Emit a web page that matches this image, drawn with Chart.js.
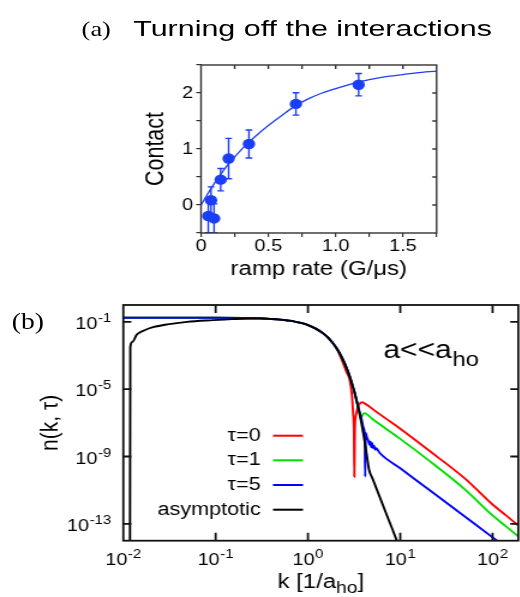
<!DOCTYPE html>
<html><head><meta charset="utf-8">
<script src="https://cdn.jsdelivr.net/npm/chart.js@4.4.1/dist/chart.umd.min.js"></script>
<style>
html,body{margin:0;padding:0;background:#fff;width:520px;height:597px;overflow:hidden}
#wrap{position:absolute;left:0;top:0;width:434px;height:597px;transform:scaleX(1.2);transform-origin:0 0}
canvas{position:absolute}
.t{position:absolute;white-space:nowrap;line-height:1;color:#000}
</style></head>
<body><div id="wrap">
<div class="t" style="left:68px;top:18px;font-family:'Liberation Serif',serif;font-size:22px">(a)</div>
<div class="t" style="left:110.6px;top:18.5px;font-family:'Liberation Sans',Arial,sans-serif;font-size:21.5px;transform:scaleX(1.18);transform-origin:0 0">Turning off the interactions</div>
<div class="t" style="left:9.75px;top:310px;font-family:'Liberation Serif',serif;font-size:23px">(b)</div>
<canvas id="ca" width="300" height="250" style="left:90px;top:40px"></canvas>
<canvas id="cb" width="434" height="307" style="left:0;top:290px"></canvas>
</div>
<script>
// ---------- Panel (a) data ----------
const rampRate   = [0.054, 0.097, 0.074, 0.146, 0.205, 0.356, 0.705, 1.171];
const contact    = [-0.196, -0.24, 0.084, 0.453, 0.83, 1.09, 1.805, 2.148];
const contactErr = [0.30, 0.26, 0.24, 0.20, 0.36, 0.25, 0.20, 0.20];
const fitRate    = [0, 0.05, 0.1, 0.15, 0.2, 0.25, 0.3, 0.35, 0.4, 0.5, 0.6, 0.7, 0.8, 0.9, 1.0, 1.1, 1.2, 1.3, 1.4, 1.5, 1.6, 1.75];
const fitContact = [0, 0.2, 0.39, 0.56, 0.72, 0.86, 0.99, 1.11, 1.22, 1.42, 1.6, 1.77, 1.9, 2.0, 2.08, 2.15, 2.21, 2.26, 2.3, 2.33, 2.36, 2.39];

// ---------- Panel (b) data (k in 1/a_ho, log10 of n) ----------
const kTau0 = [0.01,0.1,0.2,0.3,0.4,0.5,0.6,0.7,0.8,0.9,1.0,1.2,1.4,1.6,1.8,2.0,2.2,2.4,2.6,2.83,3.0,3.08,3.15,3.18,3.22,3.3,3.45,3.65,3.85,4.1,4.5,5,7,10,20,50,100,140,190];
const logNTau0 = [-0.76,-0.76,-0.77,-0.79,-0.83,-0.87,-0.92,-0.97,-1.04,-1.11,-1.19,-1.39,-1.61,-1.87,-2.17,-2.5,-2.95,-3.45,-3.95,-4.45,-5.4,-6.4,-7.6,-10.2,-7.4,-6.6,-6.1,-5.85,-5.78,-5.84,-5.98,-6.17,-6.75,-7.35,-8.6,-10.3,-11.85,-12.5,-13.1];
const kTau1 = [0.01,0.1,0.2,0.3,0.4,0.5,0.6,0.7,0.8,0.9,1.0,1.2,1.4,1.6,1.8,2.0,2.2,2.4,2.6,2.8,3.0,3.2,3.4,3.6,3.72,3.85,4.0,4.1,4.3,4.6,5,7,10,20,50,100,140,190];
const logNTau1 = [-0.76,-0.76,-0.77,-0.79,-0.83,-0.87,-0.92,-0.97,-1.04,-1.11,-1.19,-1.39,-1.61,-1.87,-2.17,-2.5,-2.86,-3.26,-3.69,-4.16,-4.67,-5.2,-5.78,-6.38,-6.75,-6.6,-6.45,-6.42,-6.47,-6.6,-6.77,-7.35,-7.95,-9.2,-10.95,-12.5,-13.15,-13.75];
const kTau5 = [0.01,0.1,0.2,0.3,0.4,0.5,0.6,0.7,0.8,0.9,1.0,1.2,1.4,1.6,1.8,2.0,2.2,2.4,2.6,2.8,3.0,3.2,3.4,3.6,3.8,4.0,4.12,4.17,4.22,4.35,4.5,4.65,4.75,4.85,4.95,5.05,5.2,5.35,5.5,5.75,6,10,20,50,100,120];
const logNTau5 = [-0.76,-0.76,-0.77,-0.79,-0.83,-0.87,-0.92,-0.97,-1.04,-1.11,-1.19,-1.39,-1.61,-1.87,-2.17,-2.5,-2.86,-3.26,-3.69,-4.16,-4.67,-5.2,-5.78,-6.3,-6.75,-7.3,-7.7,-10.2,-7.6,-7.85,-8.05,-8.3,-8.1,-8.45,-8.2,-8.5,-8.35,-8.6,-8.5,-8.65,-8.79,-9.7,-10.93,-12.56,-13.8,-14.12];
const kAsym = [0.0118,0.0119,0.0125,0.014,0.017,0.021,0.03,0.049,0.094,0.15,0.25,0.3,0.4,0.5,0.6,0.7,0.8,0.9,1.0,1.2,1.4,1.6,1.8,2.0,2.2,2.4,2.6,2.8,3.0,3.2,3.4,3.6,3.8,4.0,4.2,4.4,4.6,5,6,7,8,9.06,10];
const logNAsym = [-15,-2.5,-2.2,-1.75,-1.5,-1.32,-1.15,-1.0,-0.9,-0.84,-0.8,-0.8,-0.83,-0.87,-0.92,-0.97,-1.04,-1.11,-1.19,-1.39,-1.61,-1.87,-2.17,-2.5,-2.86,-3.26,-3.69,-4.16,-4.67,-5.2,-5.78,-6.38,-7.03,-7.7,-8.4,-9.15,-9.8,-10.3,-11.41,-12.35,-13.16,-13.92,-14.52];
const seriesLabels = ['τ=0', 'τ=1', 'τ=5', 'asymptotic'];
const xDecades = [0.01, 0.1, 1, 10, 100];
const yDecades = [1e-1, 1e-5, 1e-9, 1e-13];

const FONT = "'Liberation Sans', Arial, sans-serif";
const BLUE_A = 'rgb(28,62,245)';
Chart.defaults.font.family = FONT;
Chart.defaults.color = '#000';

function exponentOf(v){ return String(Math.round(Math.log10(v))); }

function makeFrame(cfg){
  return { id:'frame', afterDatasetsDraw(chart){
    const {ctx, chartArea:a, scales:{x, y}} = chart;
    ctx.save();
    ctx.strokeStyle = cfg.color; ctx.lineWidth = cfg.width;
    ctx.strokeRect(a.left, a.top, a.right - a.left, a.bottom - a.top);
    ctx.beginPath();
    x.ticks.forEach(t => {
      const px = x.getPixelForValue(t.value);
      if (px < a.left + 0.5 || px > a.right - 0.5) return;
      if (cfg.top) { ctx.moveTo(px, a.top); ctx.lineTo(px, a.top + cfg.top); }
      if (cfg.bottom) { ctx.moveTo(px, a.bottom); ctx.lineTo(px, a.bottom - cfg.bottom); }
    });
    y.ticks.forEach(t => {
      const py = y.getPixelForValue(t.value);
      if (py < a.top + 0.5 || py > a.bottom - 0.5) return;
      if (cfg.right) { ctx.moveTo(a.right, py); ctx.lineTo(a.right - cfg.right, py); }
      if (cfg.left) { ctx.moveTo(a.left, py); ctx.lineTo(a.left + cfg.left, py); }
    });
    ctx.stroke();
    ctx.restore();
  }};
}

const errorBars = { id:'errorBars', afterDatasetsDraw(chart){
  const {ctx, chartArea:a, scales:{x, y}} = chart;
  ctx.save();
  ctx.beginPath(); ctx.rect(a.left, a.top, a.right - a.left, a.bottom - a.top); ctx.clip();
  ctx.strokeStyle = BLUE_A; ctx.lineWidth = 1.4;
  rampRate.forEach((r, i) => {
    const px = x.getPixelForValue(r);
    const top = y.getPixelForValue(contact[i] + contactErr[i]);
    const bot = y.getPixelForValue(contact[i] - contactErr[i]);
    ctx.beginPath();
    ctx.moveTo(px, top); ctx.lineTo(px, bot);
    ctx.moveTo(px - 2.8, top); ctx.lineTo(px + 2.8, top);
    ctx.moveTo(px - 2.8, bot); ctx.lineTo(px + 2.8, bot);
    ctx.stroke();
  });
  ctx.restore();
}};

new Chart(document.getElementById('ca'), {
  type: 'scatter',
  data: { datasets: [
    { label: 'data', data: rampRate.map((r, i) => ({x: r, y: contact[i]})), backgroundColor: BLUE_A, borderColor: BLUE_A,
      pointRadius: 5.2, pointBorderWidth: 0, showLine: false, order: 0 },
    { label: 'fit', data: fitRate.map((r, i) => ({x: r, y: fitContact[i]})), showLine: true, borderColor: BLUE_A,
      borderWidth: 1.3, pointRadius: 0, cubicInterpolationMode: 'monotone', order: 1 }
  ]},
  options: {
    responsive: false, animation: false, devicePixelRatio: 1, events: [],
    layout: { padding: { top: 25, right: 26.2, left: 0, bottom: 0 } },
    plugins: { legend: { display: false }, tooltip: { enabled: false } },
    scales: {
      x: { type: 'linear', min: 0, max: 1.75, afterFit(s){ s.height = 57; },
        ticks: { stepSize: 0.25, autoSkip: false, maxRotation: 0, padding: 0, font: { size: 16.5 },
          callback(v){ return (Math.abs(v * 2 - Math.round(v * 2)) < 1e-9) ? (v === 0 ? '0' : v.toFixed(1)) : ''; } },
        grid: { display: true, drawOnChartArea: false, drawTicks: true, tickLength: 4, color: '#333', lineWidth: 1.2 },
        border: { display: false },
        title: { display: true, text: 'ramp rate (G/μs)', font: { size: 20 }, padding: { top: 0, bottom: 9 } } },
      y: { type: 'linear', min: -0.5, max: 2.5, afterFit(s){ s.width = 77.5; },
        ticks: { stepSize: 0.5, autoSkip: false, padding: 2.5, font: { size: 16.5 },
          callback(v){ return Number.isInteger(v) ? String(v) : ''; } },
        grid: { display: true, drawOnChartArea: false, drawTicks: true, tickLength: 4, color: '#333', lineWidth: 1.2 },
        border: { display: false },
        title: { display: true, text: 'Contact', font: { size: 21.5 }, padding: { top: 27, bottom: 0 } } }
    }
  },
  plugins: [errorBars, makeFrame({ color: '#333', width: 1.4, top: 4, right: 3.6 })]
});

// power-of-ten label with a real superscript: "10" + raised exponent
function drawPow10(ctx, v, xPos, baseline, align){
  const exp = exponentOf(v);
  ctx.font = '16.5px ' + FONT; const wMain = ctx.measureText('10').width;
  ctx.font = '12.5px ' + FONT; const wExp = ctx.measureText(exp).width;
  const total = wMain + wExp + 0.5;
  const start = align === 'right' ? xPos - total : xPos - total / 2;
  ctx.textAlign = 'left'; ctx.textBaseline = 'alphabetic';
  ctx.font = '16.5px ' + FONT; ctx.fillText('10', start, baseline);
  ctx.font = '12.5px ' + FONT; ctx.fillText(exp, start + wMain + 0.5, baseline - 7);
}

const panelBText = { id:'panelBText', afterDraw(chart){
  const {ctx, chartArea:a, scales:{x, y}} = chart;
  ctx.save();
  ctx.fillStyle = '#000';
  // tick labels
  xDecades.forEach(v => drawPow10(ctx, v, x.getPixelForValue(v), a.bottom + 24.2, 'center'));
  yDecades.forEach(v => drawPow10(ctx, v, a.left - 10, y.getPixelForValue(v) + 7.3, 'right'));
  // annotation a<<a_ho
  ctx.textBaseline = 'alphabetic'; ctx.textAlign = 'left';
  ctx.font = '25px ' + FONT;
  const ax = 319.4, ay = 68.3;
  ctx.fillText('a<<a', ax, ay);
  const w1 = ctx.measureText('a<<a').width;
  ctx.font = '20px ' + FONT;
  ctx.fillText('ho', ax + w1 + 0.5, ay + 7.5);
  // legend
  const rows = [145.7, 170.3, 195, 219.7];
  chart.data.datasets.forEach((ds, i) => {
    ctx.font = '18px ' + FONT; ctx.textAlign = 'right'; ctx.textBaseline = 'middle';
    ctx.fillStyle = '#000';
    ctx.fillText(ds.label, 217.25, rows[i]);
    ctx.strokeStyle = ds.borderColor; ctx.lineWidth = 2;
    ctx.beginPath(); ctx.moveTo(227.5, rows[i]); ctx.lineTo(252.5, rows[i]); ctx.stroke();
  });
  // x axis title k [1/a_ho]
  ctx.textAlign = 'left'; ctx.textBaseline = 'alphabetic'; ctx.fillStyle = '#000';
  const p1 = 'k [1/a', p2 = 'ho', p3 = ']';
  ctx.font = '20px ' + FONT; const wA = ctx.measureText(p1).width, wC = ctx.measureText(p3).width;
  ctx.font = '16px ' + FONT; const wB = ctx.measureText(p2).width;
  const tx = (a.left + a.right) / 2 - (wA + wB + wC) / 2;
  const ty = 298.3;
  ctx.font = '20px ' + FONT; ctx.fillText(p1, tx, ty);
  ctx.font = '16px ' + FONT; ctx.fillText(p2, tx + wA, ty + 5);
  ctx.font = '20px ' + FONT; ctx.fillText(p3, tx + wA + wB, ty);
  ctx.restore();
}};

function series(k, logn){ return k.map((kk, i) => ({ x: kk, y: Math.pow(10, logn[i]) })); }
const lineStyle = { showLine: true, pointRadius: 0, borderWidth: 1.9, cubicInterpolationMode: 'monotone', fill: false };

new Chart(document.getElementById('cb'), {
  type: 'scatter',
  data: { datasets: [
    Object.assign({ label: seriesLabels[0], data: series(kTau0, logNTau0), borderColor: '#ff0000', order: 3 }, lineStyle),
    Object.assign({ label: seriesLabels[1], data: series(kTau1, logNTau1), borderColor: '#00e000', order: 2 }, lineStyle),
    Object.assign({ label: seriesLabels[2], data: series(kTau5, logNTau5), borderColor: '#0000ff', order: 1 }, lineStyle),
    Object.assign({ label: seriesLabels[3], data: series(kAsym, logNAsym), borderColor: '#000000', order: 0 }, lineStyle)
  ]},
  options: {
    responsive: false, animation: false, devicePixelRatio: 1, events: [],
    layout: { padding: { top: 15, right: 2.1, left: 0, bottom: 0 } },
    plugins: { legend: { display: false }, tooltip: { enabled: false } },
    scales: {
      x: { type: 'logarithmic', min: 0.01, max: 190,
        afterBuildTicks(s){ s.ticks = xDecades.map(v => ({ value: v })); },
        afterFit(s){ s.height = 56.3; },
        ticks: { display: false },
        grid: { display: false, drawTicks: false }, border: { display: false } },
      y: { type: 'logarithmic', min: 1e-14, max: 1,
        afterBuildTicks(s){ s.ticks = yDecades.map(v => ({ value: v })); },
        afterFit(s){ s.width = 102.75; },
        ticks: { display: false },
        grid: { display: false, drawTicks: false }, border: { display: false },
        title: { display: true, text: 'n(k, τ)', font: { size: 21 }, padding: { top: 29.9, bottom: 0 } } }
    }
  },
  plugins: [makeFrame({ color: '#111', width: 1.8, top: 8, bottom: 8, left: 6.7, right: 6.7 }), panelBText]
});
</script>
</body></html>
